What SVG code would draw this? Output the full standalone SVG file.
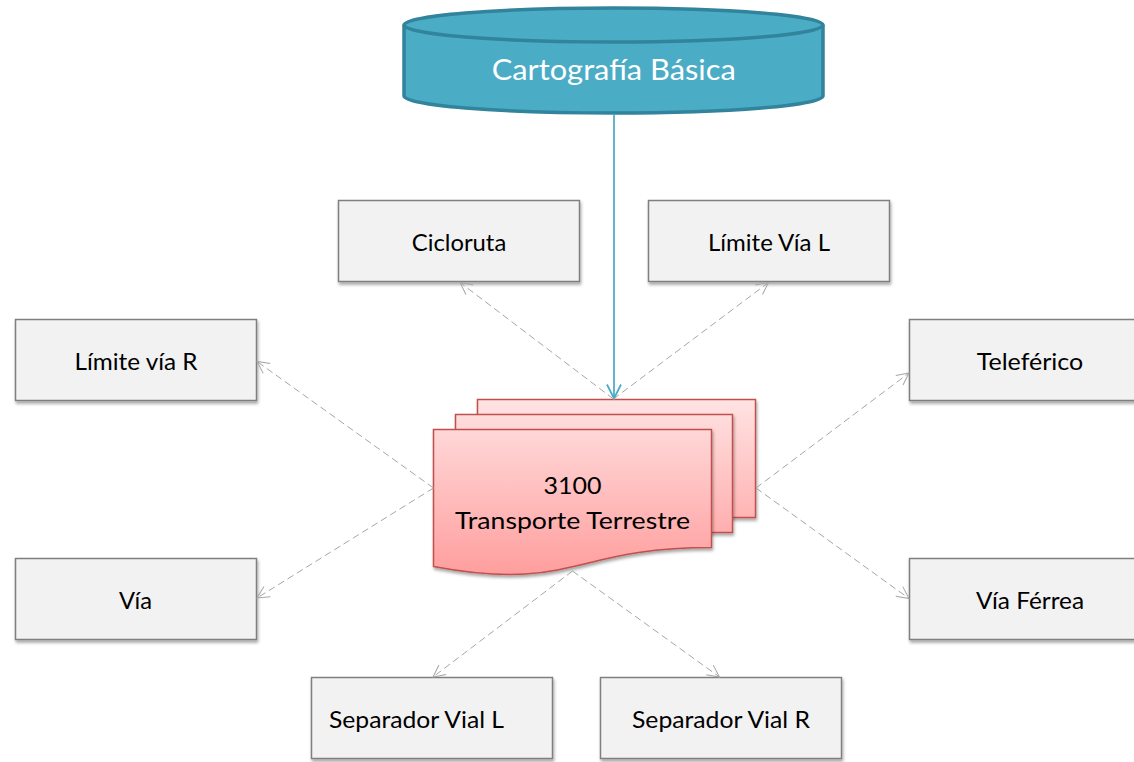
<svg xmlns="http://www.w3.org/2000/svg" width="1134" height="762" viewBox="0 0 1134 762">
  <defs>
    <style>
      .box { fill: #f2f2f2; stroke: #7f7f7f; stroke-width: 1.5; filter: url(#shadow); }
      .lbl { font-family: Lato, "Liberation Sans", Arial, sans-serif; font-size: 24px; fill: #000; text-anchor: middle; }
      .doc { fill: url(#docGrad); stroke: #c0504d; stroke-width: 1.5; filter: url(#shadow); }
      .dash { stroke: #a6a6a6; stroke-width: 1; stroke-dasharray: 7 4; fill: none; marker-end: url(#openArrow); }
      .blue { stroke: #4bacc6; stroke-width: 1.75; fill: none; marker-end: url(#blueArrow); }
    </style>
    <filter id="shadow" x="-10%" y="-10%" width="120%" height="130%">
      <feDropShadow dx="1" dy="2.5" stdDeviation="1.5" flood-color="#000" flood-opacity="0.35"/>
    </filter>
    <linearGradient id="docGrad" gradientUnits="userSpaceOnUse" x1="0" y1="399" x2="0" y2="577">
      <stop offset="0" stop-color="#ffe3e3"/>
      <stop offset="1" stop-color="#ff9d9d"/>
    </linearGradient>
    <marker id="openArrow" markerUnits="userSpaceOnUse" markerWidth="16" markerHeight="16" viewBox="-14 -8 16 16" refX="0" refY="0" orient="auto">
      <path d="M-12,-6 L0,0 L-12,6" fill="none" stroke="#a6a6a6" stroke-width="1"/>
    </marker>
    <marker id="blueArrow" markerUnits="userSpaceOnUse" markerWidth="18" markerHeight="18" viewBox="-16 -9 18 18" refX="0" refY="0" orient="auto">
      <path d="M-14,-7 L0,0 L-14,7" fill="none" stroke="#4bacc6" stroke-width="1.75"/>
    </marker>
  </defs>

  <rect width="1134" height="762" fill="#ffffff"/>

  <g id="cartografia-basica">
    <path d="M404,25 V96 A209.5,17 0 0 0 823,96 V25" fill="#4bacc6" stroke="#31849b" stroke-width="3.5"/>
    <ellipse cx="613.5" cy="25" rx="209.5" ry="17" fill="#4bacc6" stroke="#31849b" stroke-width="3.5"/>
    <text x="613.7" y="80" font-family="Lato, Liberation Sans, Arial, sans-serif" font-size="29.5" fill="#ffffff" text-anchor="middle" textLength="244" lengthAdjust="spacingAndGlyphs">Cartografía Básica</text>
  </g>

  <g id="transporte-terrestre">
    <rect class="doc" x="477.5" y="399.5" width="278" height="118"/>
    <rect class="doc" x="455.5" y="414.5" width="277" height="118"/>
    <path class="doc" d="M433.5,429.5 H711.5 V547.5 C572.5,547.5 572.5,592.5 433.5,566.5 Z"/>
    <text class="lbl" x="572.5" y="493.5" font-size="26" textLength="58" lengthAdjust="spacingAndGlyphs">3100</text>
    <text class="lbl" x="572.5" y="528.5" font-size="26" textLength="235" lengthAdjust="spacingAndGlyphs">Transporte Terrestre</text>
  </g>

  <g id="cicloruta">
    <rect class="box" x="338.5" y="200.5" width="241" height="81"/>
    <text class="lbl" x="459" y="250.7" textLength="94.5" lengthAdjust="spacingAndGlyphs">Cicloruta</text>
  </g>

  <g id="limite-via-l">
    <rect class="box" x="648.5" y="200.5" width="241" height="81"/>
    <text class="lbl" x="769" y="250.7" textLength="122" lengthAdjust="spacingAndGlyphs">Límite Vía L</text>
  </g>

  <g id="limite-via-r">
    <rect class="box" x="15.5" y="319.5" width="241" height="81"/>
    <text class="lbl" x="136" y="369.7" textLength="123" lengthAdjust="spacingAndGlyphs">Límite vía R</text>
  </g>

  <g id="teleferico">
    <rect class="box" x="909.5" y="319.5" width="241" height="81"/>
    <text class="lbl" x="1030" y="369.7" textLength="106.5" lengthAdjust="spacingAndGlyphs">Teleférico</text>
  </g>

  <g id="via">
    <rect class="box" x="15.5" y="558.5" width="241" height="81"/>
    <text class="lbl" x="135.5" y="608.7" textLength="33" lengthAdjust="spacingAndGlyphs">Vía</text>
  </g>

  <g id="via-ferrea">
    <rect class="box" x="909.5" y="558.5" width="241" height="81"/>
    <text class="lbl" x="1030" y="608.7" textLength="108" lengthAdjust="spacingAndGlyphs">Vía Férrea</text>
  </g>

  <g id="separador-vial-l">
    <rect class="box" x="311.5" y="677.5" width="241" height="81"/>
    <text class="lbl" x="416.5" y="727.7" textLength="175" lengthAdjust="spacingAndGlyphs">Separador Vial L</text>
  </g>

  <g id="separador-vial-r">
    <rect class="box" x="600.5" y="677.5" width="241" height="81"/>
    <text class="lbl" x="721" y="727.7" textLength="178" lengthAdjust="spacingAndGlyphs">Separador Vial R</text>
  </g>

  <g id="connectors">
    <line class="blue" x1="614" y1="114" x2="614" y2="398.5"/>
    <line class="dash" x1="613.5" y1="399" x2="460" y2="282.5"/>
    <line class="dash" x1="613.5" y1="399" x2="768.5" y2="282.5"/>
    <line class="dash" x1="433.5" y1="488" x2="257" y2="361.5"/>
    <line class="dash" x1="433.5" y1="488" x2="257" y2="598"/>
    <line class="dash" x1="756" y1="488" x2="909" y2="373"/>
    <line class="dash" x1="756" y1="488" x2="909" y2="598.5"/>
    <line class="dash" x1="572.5" y1="571" x2="433" y2="677"/>
    <line class="dash" x1="572.5" y1="571" x2="719.5" y2="677"/>
  </g>
</svg>
